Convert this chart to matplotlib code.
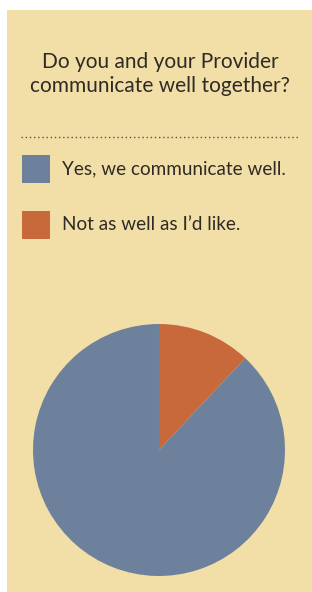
import matplotlib
matplotlib.use("Agg")
import matplotlib.pyplot as plt
from matplotlib.patches import Rectangle
from matplotlib.lines import Line2D

title = "Do you and your Provider\ncommunicate well together?"
categories = ["Yes, we communicate well.", "Not as well as I\u2019d like."]
values = [88, 12]
colors = ["#6e819c", "#c8693c"]
bg = "#f2dfa7"
textc = "#2e2b26"

W, H = 312, 592
fig = plt.figure(figsize=(W / 100, H / 100), dpi=100)
fig.patch.set_facecolor("white")

def fx(x):
    return x / W

def fy(y):
    return 1 - y / H

fig.patches.append(Rectangle((fx(7), 0), 1 - fx(7), fy(10), transform=fig.transFigure,
                             facecolor=bg, edgecolor="none", zorder=-5))

fig.text(fx(160), fy(74), title, ha="center", va="center", fontsize=15,
         family="Lato", color=textc, linespacing=1.25)

fig.lines.append(Line2D([fx(21), fx(300)], [fy(137), fy(137)], transform=fig.transFigure,
                        color="#55504a", linewidth=1.0, linestyle=(0, (1, 2)), zorder=1))

leg_y = [169, 225]
for cat, col, y in zip(categories, colors, leg_y):
    fig.patches.append(Rectangle((fx(22), fy(y + 14)), fx(28), 28 / H,
                                 transform=fig.transFigure, facecolor=col,
                                 edgecolor="none", zorder=1))
    fig.text(fx(62), fy(y), cat, ha="left", va="center", fontsize=13.6,
             family="Lato", color=textc)

ax = fig.add_axes([fx(33), 1 - 576 / H, 252 / W, 252 / H])
ax.set_zorder(5)
ax.patch.set_visible(False)
ax.pie(values[::-1], colors=colors[::-1], startangle=90, counterclock=False,
       radius=1, wedgeprops=dict(linewidth=0))
ax.set_xlim(-1, 1)
ax.set_ylim(-1, 1)
ax.set_aspect("equal")
ax.axis("off")

fig.savefig("out.png", dpi=100)
